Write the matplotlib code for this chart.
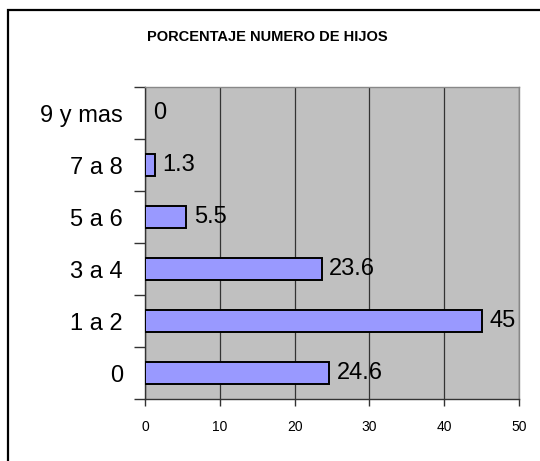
import numpy as np
import matplotlib
matplotlib.use("Agg")
import matplotlib.pyplot as plt
from matplotlib.patches import Rectangle

plt.rcParams['font.family'] = ['Liberation Sans', 'DejaVu Sans']

categorias = ['0', '1 a 2', '3 a 4', '5 a 6', '7 a 8', '9 y mas']
porcentaje = [24.6, 45, 23.6, 5.5, 1.3, 0]
etiquetas = ['24.6', '45', '23.6', '5.5', '1.3', '0']
xticks = [0, 10, 20, 30, 40, 50]

fig = plt.figure(figsize=(5.4, 4.61), dpi=100)
fig.patch.set_facecolor('white')

# marco exterior del grafico (se sale por la derecha y abajo)
W, H = 540, 461
marco = Rectangle((8 / W, -0.1), 1.2, 1 - 10 / H + 0.1, transform=fig.transFigure,
                  fill=False, edgecolor='black', linewidth=1.6)
fig.patches.append(marco)

ax = fig.add_axes([145 / W, 1 - 399 / H, (519 - 145) / W, (399 - 87) / H])
ax.set_facecolor('#c0c0c0')

y = np.arange(len(categorias))
anchos = [1.4 if v > 0 else 0 for v in porcentaje]
ax.barh(y, porcentaje, height=0.42, color='#9999ff', edgecolor='black',
        linewidth=anchos, zorder=3)

for yi, v, t in zip(y, porcentaje, etiquetas):
    ax.annotate(t, (v, yi), xytext=(5.5, 0), textcoords='offset points',
                ha='left', va='center', fontsize=17, zorder=4)

ax.set_xlim(0, 50)
ax.set_ylim(-0.5, len(categorias) - 0.5)
ax.set_xticks(xticks)
ax.set_xticklabels([str(v) for v in xticks], fontsize=10)
ax.xaxis.grid(True, color='#333333', linewidth=0.9, zorder=1)

ax.set_yticks(np.arange(-0.5, len(categorias), 1.0))
ax.set_yticklabels([])
ax.set_yticks(y, minor=True)
ax.set_yticklabels(categorias, minor=True, fontsize=17)
ax.tick_params(axis='y', which='major', length=8, width=1, color='#333333')
ax.tick_params(axis='y', which='minor', length=0, pad=16)
ax.tick_params(axis='x', length=5, width=1, color='#333333', pad=10)

for s in ['top', 'right']:
    ax.spines[s].set_color('#888888')
    ax.spines[s].set_linewidth(1.0)
for s in ['left', 'bottom']:
    ax.spines[s].set_color('#333333')
    ax.spines[s].set_linewidth(1.0)

fig.text(267 / W, 1 - 37 / H, 'PORCENTAJE NUMERO DE HIJOS', ha='center', va='center',
         fontsize=10.5, fontweight='bold')

fig.savefig('out.png', dpi=100)
